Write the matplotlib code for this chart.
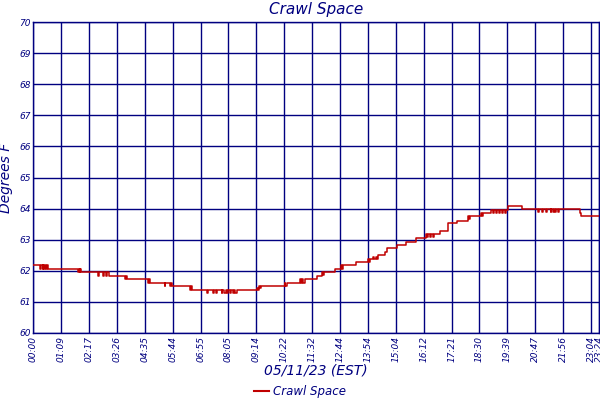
import matplotlib
matplotlib.use("Agg")
import matplotlib.pyplot as plt
from matplotlib.lines import Line2D

NAVY = "#000080"
RED = "#c00000"

# x positions in tick-interval units (one interval ~ 69 minutes of samples)
tick_labels = ["00:00", "01:09", "02:17", "03:26", "04:35", "05:44", "06:55",
               "08:05", "09:14", "10:22", "11:32", "12:44", "13:54", "15:04",
               "16:12", "17:21", "18:30", "19:39", "20:47", "21:56", "23:04", "23:24"]
tick_pos = list(range(21)) + [20.29]

y_ticks = [60, 61, 62, 63, 64, 65, 66, 67, 68, 69, 70]

# step series: (start position, temperature F)
step_x = [0.00, 0.25, 0.27, 0.33, 0.36, 0.40, 0.43, 0.47, 0.50, 0.53,
          1.61, 1.63, 1.66, 1.69, 1.72,
          2.33, 2.36, 2.50, 2.55, 2.60, 2.66, 2.72,
          3.29, 3.31, 3.36,
          4.12, 4.16, 4.20,
          4.72, 4.74, 4.90, 4.93, 4.97,
          5.62, 5.65, 5.68,
          6.22, 6.25, 6.45, 6.48, 6.55, 6.58, 6.75, 6.78, 6.85, 6.90, 6.95, 7.00,
          7.05, 7.10, 7.15, 7.20, 7.25, 7.30,
          8.02, 8.05, 8.09, 8.12, 8.16,
          9.02, 9.04, 9.08,
          9.56, 9.59, 9.63, 9.66, 9.74,
          10.16, 10.35, 10.38, 10.42,
          10.81, 11.05, 11.08, 11.12,
          11.59, 12.00, 12.03, 12.06,
          12.19, 12.22, 12.30, 12.33, 12.37,
          12.61, 12.67, 13.03, 13.38, 13.74,
          14.10, 14.13, 14.17, 14.22, 14.27, 14.32, 14.36,
          14.58, 14.88, 15.18, 15.59, 15.62, 15.65,
          16.07, 16.10, 16.14,
          16.43, 16.47, 16.52, 16.58, 16.62, 16.70, 16.75, 16.82, 16.86, 16.92, 16.96,
          17.03, 17.54,
          18.10, 18.13, 18.25, 18.28, 18.38, 18.41, 18.55, 18.58, 18.63, 18.66,
          18.72, 18.75, 18.82, 18.85,
          19.60, 19.64, 20.29]
step_t = [62.20, 62.05, 62.20, 62.05, 62.20, 62.05, 62.20, 62.05, 62.20, 62.05,
          61.95, 62.05, 61.95, 62.05, 61.95,
          61.83, 61.95, 61.83, 61.95, 61.83, 61.95, 61.83,
          61.73, 61.83, 61.73,
          61.60, 61.73, 61.60,
          61.51, 61.60, 61.51, 61.60, 61.51,
          61.37, 61.51, 61.37,
          61.28, 61.37, 61.28, 61.37, 61.28, 61.37, 61.28, 61.37, 61.28, 61.37, 61.28, 61.37,
          61.28, 61.37, 61.28, 61.37, 61.28, 61.37,
          61.44, 61.37, 61.51, 61.44, 61.51,
          61.60, 61.51, 61.60,
          61.73, 61.60, 61.73, 61.60, 61.73,
          61.83, 61.95, 61.88, 61.95,
          62.05, 62.18, 62.05, 62.18,
          62.28, 62.38, 62.28, 62.38,
          62.45, 62.38, 62.45, 62.38, 62.50,
          62.61, 62.72, 62.83, 62.94, 63.06,
          63.17, 63.10, 63.17, 63.10, 63.17, 63.10, 63.17,
          63.29, 63.53, 63.61, 63.76, 63.68, 63.76,
          63.85, 63.76, 63.85,
          63.95, 63.85, 63.95, 63.85, 63.95, 63.85, 63.95, 63.85, 63.95, 63.85, 63.95,
          64.08, 63.98,
          63.88, 63.98, 63.88, 63.98, 63.88, 63.98, 63.88, 63.98, 63.88, 63.98,
          63.88, 63.98, 63.88, 63.98,
          63.85, 63.76, 63.76]

fig = plt.figure(figsize=(6, 4), dpi=100)
ax = fig.add_axes([0.0555, 0.1675, 0.943, 0.7775])

ax.step(step_x, step_t, where="post", color=RED, linewidth=1.1, zorder=3)

ax.set_xlim(0, 20.29)
ax.set_ylim(60, 70)
ax.set_xticks(tick_pos)
ax.set_xticklabels(tick_labels, rotation=90, fontsize=6.5, style="italic", color=NAVY)
ax.set_yticks(y_ticks)
ax.set_yticklabels([str(v) for v in y_ticks], fontsize=6.5, style="italic", color=NAVY)
ax.tick_params(length=0, pad=2)
ax.grid(True, color=NAVY, linewidth=1.0, zorder=1)
for s in ax.spines.values():
    s.set_color(NAVY)
    s.set_linewidth(1.0)

ax.set_title("Crawl Space", fontsize=11, style="italic", color=NAVY, pad=6)
ax.set_xlabel("05/11/23 (EST)", fontsize=10, style="italic", color=NAVY, labelpad=1)
ax.set_ylabel("Degrees F", fontsize=10, style="italic", color=NAVY, labelpad=4)

handle = Line2D([], [], color=RED, linewidth=1.5)
fig.legend([handle], ["Crawl Space"], loc="center", bbox_to_anchor=(0.5, 0.022),
           frameon=False, prop={"size": 8.5, "style": "italic"}, labelcolor=NAVY,
           handlelength=1.3, handletextpad=0.3)

fig.savefig("out.png", dpi=100)
